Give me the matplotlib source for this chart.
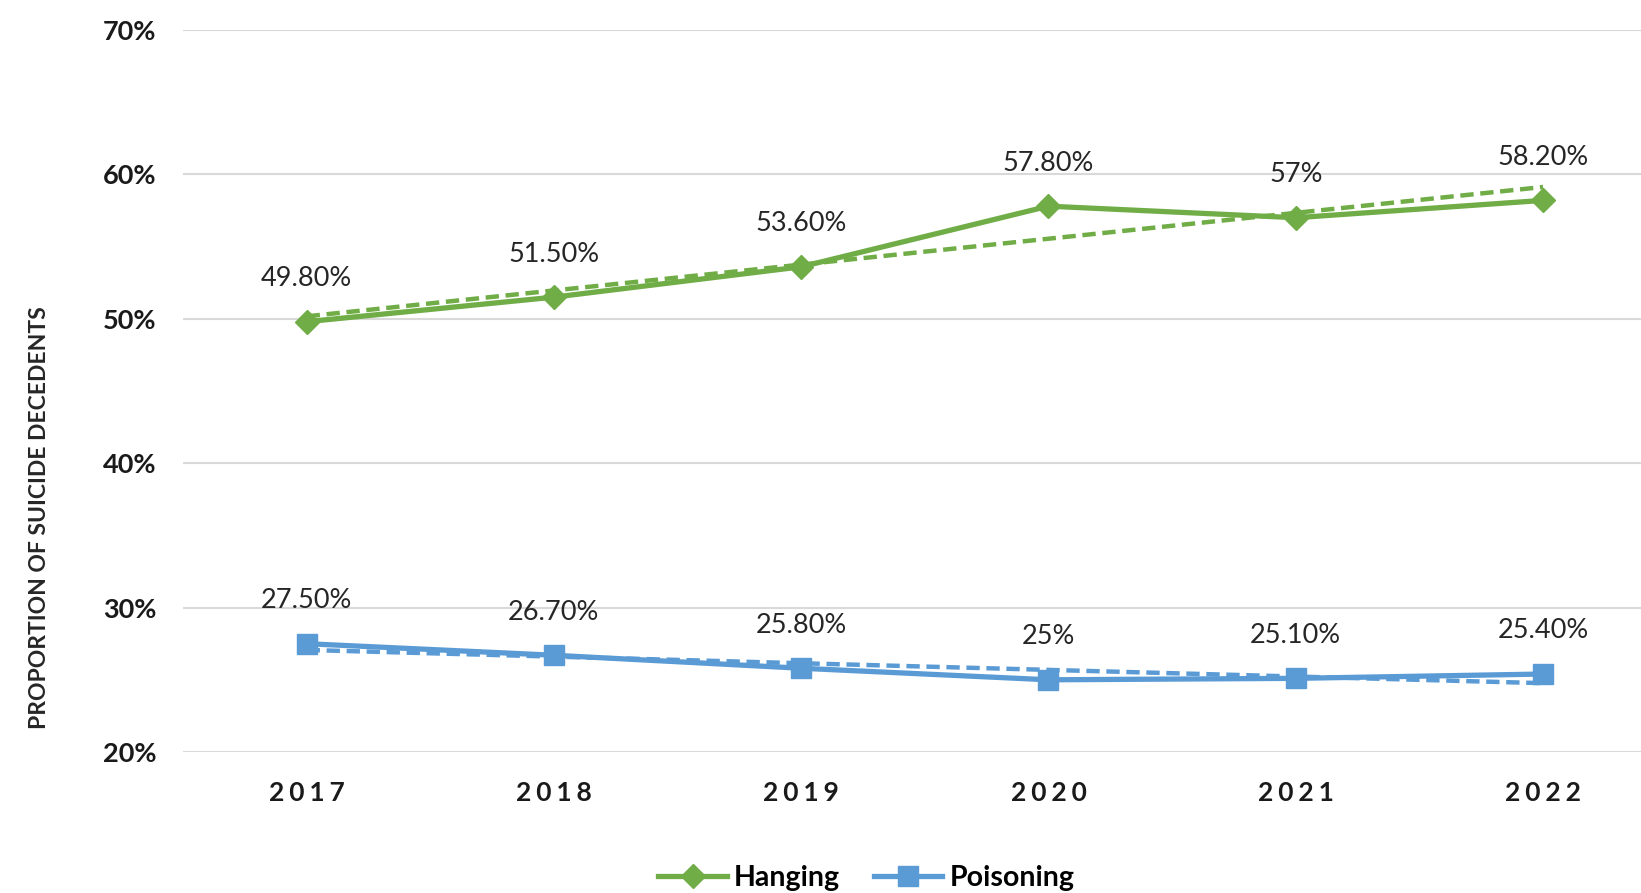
import matplotlib
matplotlib.use("Agg")
import matplotlib.pyplot as plt
import numpy as np

# values
years = ["2017", "2018", "2019", "2020", "2021", "2022"]
hanging = [49.8, 51.5, 53.6, 57.8, 57.0, 58.2]
poisoning = [27.5, 26.7, 25.8, 25.0, 25.1, 25.4]
hanging_labels = ["49.80%", "51.50%", "53.60%", "57.80%", "57%", "58.20%"]
poisoning_labels = ["27.50%", "26.70%", "25.80%", "25%", "25.10%", "25.40%"]
yticks = [20, 30, 40, 50, 60, 70]

GREEN = "#70AD47"
BLUE = "#5B9BD5"
FONT = ["Lato", "DejaVu Sans"]

plt.rcParams['font.family'] = FONT

fig = plt.figure(figsize=(16.41, 8.93), dpi=100)
ax = fig.add_axes([183/1641, 1 - 752/893, 1 - 183/1641, (752 - 30)/893])

x = np.arange(len(years))

# linear trendlines (dashed), like Excel
for vals, col in [(hanging, GREEN), (poisoning, BLUE)]:
    k, b = np.polyfit(x, vals, 1)
    ax.plot(x, k*x + b, color=col, lw=3.2, ls=(0, (3, 1.5)), zorder=2)

ax.plot(x, hanging, color=GREEN, lw=3.8, marker="D", ms=12, label="Hanging", zorder=3)
ax.plot(x, poisoning, color=BLUE, lw=3.8, marker="s", ms=14, label="Poisoning", zorder=3)

for xi, v, t in zip(x, hanging, hanging_labels):
    ax.annotate(t, (xi, v), xytext=(0, 31), textcoords="offset points",
                ha="center", va="center", fontsize=19.5, color="#262626")
for xi, v, t in zip(x, poisoning, poisoning_labels):
    ax.annotate(t, (xi, v), xytext=(0, 31), textcoords="offset points",
                ha="center", va="center", fontsize=19.5, color="#262626")

ax.set_xlim(-0.5, (1641 - 306) / 247.4)
ax.set_ylim(20, 70)
ax.set_yticks(yticks)
ax.set_yticklabels([f"{t}%" for t in yticks], fontsize=19.5, fontweight="bold", color="#1a1a1a")
ax.set_xticks(x)
ax.set_xticklabels(["\u2009\u200a".join(y) for y in years], fontsize=19, fontweight="bold", color="#1a1a1a")
ax.tick_params(axis="both", length=0)
ax.tick_params(axis="y", pad=19)
ax.tick_params(axis="x", pad=21)

ax.grid(axis="y", color="#D9D9D9", lw=1.5)
ax.set_axisbelow(True)
for s in ax.spines.values():
    s.set_visible(False)

fig.text(40/1641, 1 - 518/893, "PROPORTION OF SUICIDE DECEDENTS", rotation=90,
         ha="center", va="center", fontsize=16.5, fontweight="bold", color="#262626")

fig.legend(loc="center", bbox_to_anchor=(0.528, 1 - 878/893), ncol=2, frameon=False,
           prop={"size": 20.5, "weight": "bold"}, handlelength=2.4, columnspacing=1.2,
           handletextpad=0.25)

fig.savefig("out.png", dpi=100)
